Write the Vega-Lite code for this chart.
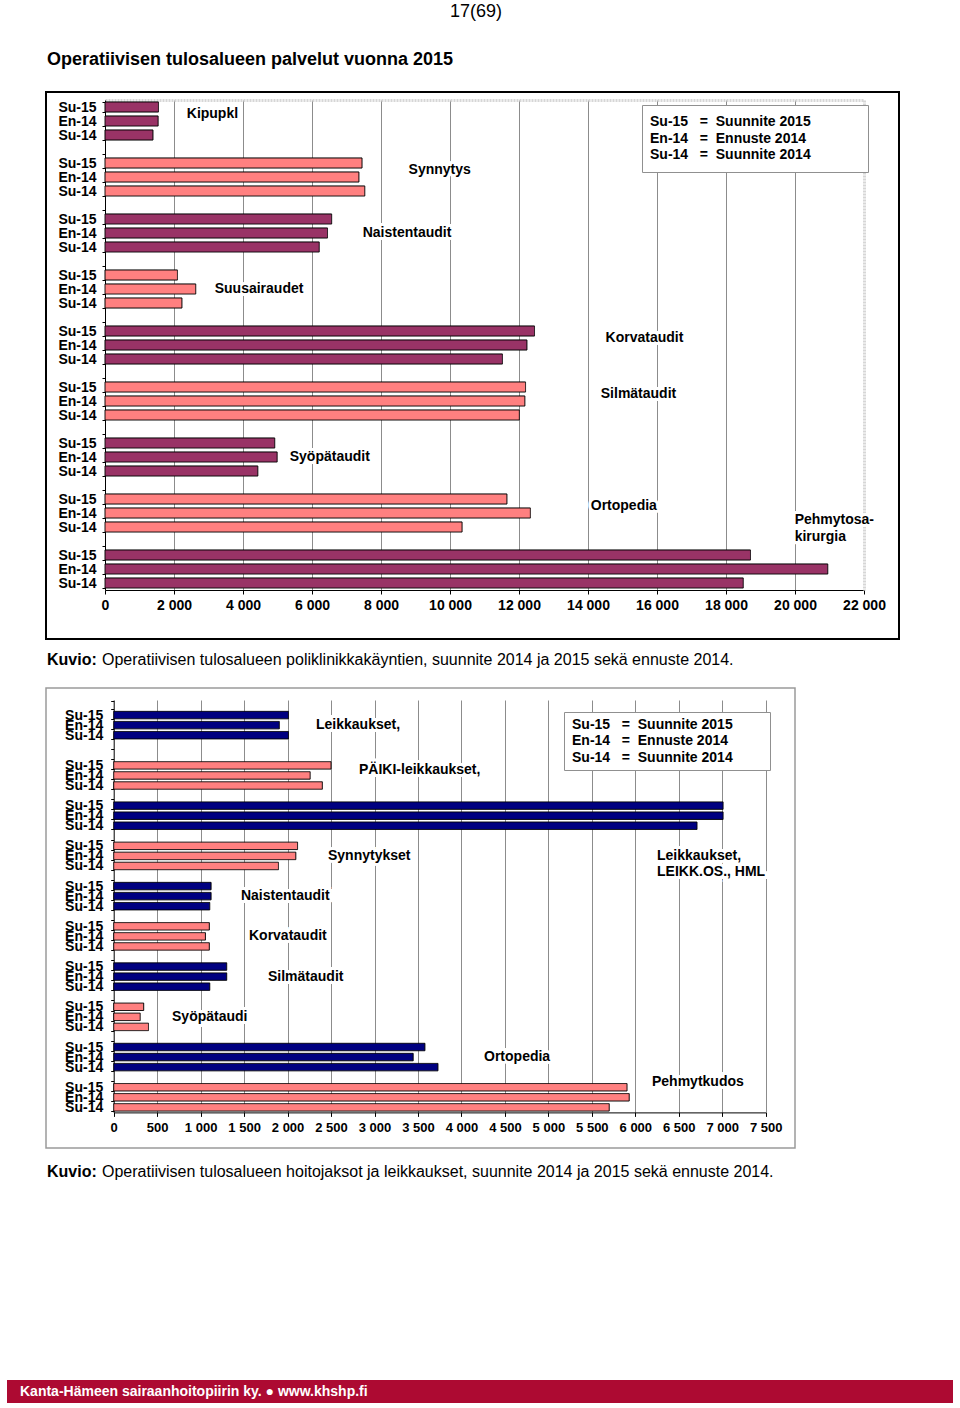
{
  "$schema": "https://vega.github.io/schema/vega-lite/v6.json",
  "background": "white",
  "padding": {"left": 7, "top": 3, "right": 0, "bottom": 0},
  "config": {"font": "Liberation Sans", "view": {"stroke": null}, "title": {"color": "black", "font": "Liberation Sans"}},
  "title": {"text": "17(69)", "anchor": "middle", "fontSize": 18, "fontWeight": "normal", "offset": 30, "dx": -4},
  "spacing": 11,
  "resolve": {"scale": {"fill": "independent", "strokeDash": "independent"}, "legend": {"strokeDash": "independent"}},
  "datasets": {
    "poli": [
      {"cat": "Kipupkl", "ver": "Su-15", "row": "1|Su-15", "v": 1550},
      {"cat": "Kipupkl", "ver": "En-14", "row": "1|En-14", "v": 1540},
      {"cat": "Kipupkl", "ver": "Su-14", "row": "1|Su-14", "v": 1390},
      {"cat": "Synnytys", "ver": "Su-15", "row": "2|Su-15", "v": 7450},
      {"cat": "Synnytys", "ver": "En-14", "row": "2|En-14", "v": 7360},
      {"cat": "Synnytys", "ver": "Su-14", "row": "2|Su-14", "v": 7530},
      {"cat": "Naistentaudit", "ver": "Su-15", "row": "3|Su-15", "v": 6570},
      {"cat": "Naistentaudit", "ver": "En-14", "row": "3|En-14", "v": 6450},
      {"cat": "Naistentaudit", "ver": "Su-14", "row": "3|Su-14", "v": 6210},
      {"cat": "Suusairaudet", "ver": "Su-15", "row": "4|Su-15", "v": 2100},
      {"cat": "Suusairaudet", "ver": "En-14", "row": "4|En-14", "v": 2630},
      {"cat": "Suusairaudet", "ver": "Su-14", "row": "4|Su-14", "v": 2230},
      {"cat": "Korvataudit", "ver": "Su-15", "row": "5|Su-15", "v": 12450},
      {"cat": "Korvataudit", "ver": "En-14", "row": "5|En-14", "v": 12230},
      {"cat": "Korvataudit", "ver": "Su-14", "row": "5|Su-14", "v": 11520},
      {"cat": "Silmätaudit", "ver": "Su-15", "row": "6|Su-15", "v": 12190},
      {"cat": "Silmätaudit", "ver": "En-14", "row": "6|En-14", "v": 12170},
      {"cat": "Silmätaudit", "ver": "Su-14", "row": "6|Su-14", "v": 12010},
      {"cat": "Syöpätaudit", "ver": "Su-15", "row": "7|Su-15", "v": 4920},
      {"cat": "Syöpätaudit", "ver": "En-14", "row": "7|En-14", "v": 4990},
      {"cat": "Syöpätaudit", "ver": "Su-14", "row": "7|Su-14", "v": 4430},
      {"cat": "Ortopedia", "ver": "Su-15", "row": "8|Su-15", "v": 11650},
      {"cat": "Ortopedia", "ver": "En-14", "row": "8|En-14", "v": 12330},
      {"cat": "Ortopedia", "ver": "Su-14", "row": "8|Su-14", "v": 10350},
      {"cat": "Pehmytosakirurgia", "ver": "Su-15", "row": "9|Su-15", "v": 18710},
      {"cat": "Pehmytosakirurgia", "ver": "En-14", "row": "9|En-14", "v": 20950},
      {"cat": "Pehmytosakirurgia", "ver": "Su-14", "row": "9|Su-14", "v": 18500}
    ],
    "poliLab": [
      {"label": "Kipupkl", "row": "1|Su-15", "pos": "edge", "x": 2370},
      {"label": "Synnytys", "row": "2|Su-15", "pos": "edge", "x": 8800},
      {"label": "Naistentaudit", "row": "3|En-14", "pos": "mid", "x": 7470},
      {"label": "Suusairaudet", "row": "4|En-14", "pos": "mid", "x": 3180},
      {"label": "Korvataudit", "row": "5|Su-15", "pos": "edge", "x": 14510},
      {"label": "Silmätaudit", "row": "6|Su-15", "pos": "edge", "x": 14370},
      {"label": "Syöpätaudit", "row": "7|En-14", "pos": "mid", "x": 5354},
      {"label": "Ortopedia", "row": "8|Su-15", "pos": "edge", "x": 14080},
      {"label": "Pehmytosa-\nkirurgia", "row": "8|En-14", "pos": "edge", "x": 19990}
    ],
    "hoito": [
      {"cat": "Leikkaukset", "ver": "Su-15", "row": "1|Su-15", "v": 2010},
      {"cat": "Leikkaukset", "ver": "En-14", "row": "1|En-14", "v": 1905},
      {"cat": "Leikkaukset", "ver": "Su-14", "row": "1|Su-14", "v": 2010},
      {"cat": "PÄIKI-leikkaukset", "ver": "Su-15", "row": "2|Su-15", "v": 2500},
      {"cat": "PÄIKI-leikkaukset", "ver": "En-14", "row": "2|En-14", "v": 2260},
      {"cat": "PÄIKI-leikkaukset", "ver": "Su-14", "row": "2|Su-14", "v": 2400},
      {"cat": "Leikkaukset, LEIKK.OS., HML", "ver": "Su-15", "row": "3|Su-15", "v": 7010},
      {"cat": "Leikkaukset, LEIKK.OS., HML", "ver": "En-14", "row": "3|En-14", "v": 7010},
      {"cat": "Leikkaukset, LEIKK.OS., HML", "ver": "Su-14", "row": "3|Su-14", "v": 6710},
      {"cat": "Synnytykset", "ver": "Su-15", "row": "4|Su-15", "v": 2115},
      {"cat": "Synnytykset", "ver": "En-14", "row": "4|En-14", "v": 2095},
      {"cat": "Synnytykset", "ver": "Su-14", "row": "4|Su-14", "v": 1895},
      {"cat": "Naistentaudit", "ver": "Su-15", "row": "5|Su-15", "v": 1120},
      {"cat": "Naistentaudit", "ver": "En-14", "row": "5|En-14", "v": 1120},
      {"cat": "Naistentaudit", "ver": "Su-14", "row": "5|Su-14", "v": 1105},
      {"cat": "Korvataudit", "ver": "Su-15", "row": "6|Su-15", "v": 1100},
      {"cat": "Korvataudit", "ver": "En-14", "row": "6|En-14", "v": 1055},
      {"cat": "Korvataudit", "ver": "Su-14", "row": "6|Su-14", "v": 1100},
      {"cat": "Silmätaudit", "ver": "Su-15", "row": "7|Su-15", "v": 1300},
      {"cat": "Silmätaudit", "ver": "En-14", "row": "7|En-14", "v": 1300},
      {"cat": "Silmätaudit", "ver": "Su-14", "row": "7|Su-14", "v": 1105},
      {"cat": "Syöpätaudi", "ver": "Su-15", "row": "8|Su-15", "v": 345},
      {"cat": "Syöpätaudi", "ver": "En-14", "row": "8|En-14", "v": 305},
      {"cat": "Syöpätaudi", "ver": "Su-14", "row": "8|Su-14", "v": 400},
      {"cat": "Ortopedia", "ver": "Su-15", "row": "9|Su-15", "v": 3580},
      {"cat": "Ortopedia", "ver": "En-14", "row": "9|En-14", "v": 3445},
      {"cat": "Ortopedia", "ver": "Su-14", "row": "9|Su-14", "v": 3730},
      {"cat": "Pehmytkudos", "ver": "Su-15", "row": "10|Su-15", "v": 5905},
      {"cat": "Pehmytkudos", "ver": "En-14", "row": "10|En-14", "v": 5930},
      {"cat": "Pehmytkudos", "ver": "Su-14", "row": "10|Su-14", "v": 5700}
    ],
    "hoitoLab": [
      {"label": "Leikkaukset,", "row": "1|En-14", "pos": "mid", "x": 2327},
      {"label": "PÄIKI-leikkaukset,", "row": "2|Su-15", "pos": "edge", "x": 2822},
      {"label": "Synnytykset", "row": "4|En-14", "pos": "mid", "x": 2465},
      {"label": "Leikkaukset,\nLEIKK.OS., HML", "row": "4|En-14", "pos": "mid", "x": 6250},
      {"label": "Naistentaudit", "row": "5|En-14", "pos": "mid", "x": 1464},
      {"label": "Korvataudit", "row": "6|En-14", "pos": "mid", "x": 1556},
      {"label": "Silmätaudit", "row": "7|En-14", "pos": "mid", "x": 1775},
      {"label": "Syöpätaudi", "row": "8|En-14", "pos": "mid", "x": 671},
      {"label": "Ortopedia", "row": "9|En-14", "pos": "mid", "x": 4260},
      {"label": "Pehmytkudos", "row": "9|", "pos": "edge", "x": 6192}
    ]
  },
  "vconcat": [
    {
      "title": {"text": "Operatiivisen tulosalueen palvelut vuonna 2015", "anchor": "start", "frame": "bounds", "dx": 40, "offset": 15, "fontSize": 18, "fontWeight": "bold"},
      "bounds": "flush",
      "spacing": 0,
      "resolve": {"scale": {"fill": "independent", "strokeDash": "independent"}, "legend": {"strokeDash": "independent"}},
      "hconcat": [
        {
          "width": 39, "height": 547,
          "data": {"values": []},
          "mark": "point",
          "title": {"text": "Kuvio:", "orient": "bottom", "anchor": "start", "frame": "group", "dx": 40, "offset": 13, "fontSize": 16, "fontWeight": "bold"}
        },
        {
          "width": 853, "height": 547,
          "view": {"stroke": "black", "strokeWidth": 2, "fill": "white"},
          "title": {"text": "Operatiivisen tulosalueen poliklinikkakäyntien, suunnite 2014 ja 2015 sekä ennuste 2014.", "orient": "bottom", "anchor": "start", "frame": "group", "dx": 56, "offset": 13, "fontSize": 16, "fontWeight": "normal"},
          "resolve": {"axis": {"x": "independent", "y": "independent"}},
          "layer": [
            {
              "data": {"name": "poli"},
              "mark": {"type": "bar", "stroke": "black", "strokeWidth": 1},
              "encoding": {
                "y": {"field": "row", "type": "nominal",
                  "scale": {"domain": ["1|Su-15","1|En-14","1|Su-14","1|","2|Su-15","2|En-14","2|Su-14","2|","3|Su-15","3|En-14","3|Su-14","3|","4|Su-15","4|En-14","4|Su-14","4|","5|Su-15","5|En-14","5|Su-14","5|","6|Su-15","6|En-14","6|Su-14","6|","7|Su-15","7|En-14","7|Su-14","7|","8|Su-15","8|En-14","8|Su-14","8|","9|Su-15","9|En-14","9|Su-14"], "range": [8, 498], "paddingInner": 0.28, "paddingOuter": 0.14},
                  "axis": {"orient": "left", "offset": -59, "title": null, "labelExpr": "split(datum.value, '|')[1]", "labelFontSize": 14, "labelFontWeight": "bold", "labelColor": "black", "labelPadding": 6, "tickSize": 3, "tickColor": "black", "domainColor": "black", "tickBand": "extent", "grid": false, "labelOverlap": false}},
                "x": {"field": "v", "type": "quantitative",
                  "scale": {"domain": [0, 22000], "range": [59, 818], "nice": false, "zero": true},
                  "axis": {"orient": "bottom", "offset": -49, "title": null, "values": [0,2000,4000,6000,8000,10000,12000,14000,16000,18000,20000,22000], "labelExpr": "replace(format(datum.value, ','), ',', ' ')", "grid": false, "labelFontSize": 14, "labelFontWeight": "bold", "labelColor": "black", "labelFlush": false, "tickSize": 4, "tickColor": "black", "domainColor": "black", "labelPadding": 4}},
                "fill": {"field": "cat", "type": "nominal",
                  "scale": {"domain": ["Kipupkl","Synnytys","Naistentaudit","Suusairaudet","Korvataudit","Silmätaudit","Syöpätaudit","Ortopedia","Pehmytosakirurgia"], "range": ["#993366","#FF8080","#993366","#FF8080","#993366","#FF8080","#993366","#FF8080","#993366"]},
                  "legend": null},
                "strokeDash": {"field": "ver", "type": "nominal",
                  "scale": {"domain": ["Su-15","En-14","Su-14"], "range": [[1,0],[1,0],[1,0]]},
                  "legend": {"orient": "none", "legendX": 596, "legendY": 13, "title": null, "padding": 10, "rowPadding": 2.5, "strokeColor": "#909090", "fillColor": "white", "symbolType": "circle", "symbolSize": 0, "symbolOpacity": 0, "symbolStrokeWidth": 0, "labelOffset": -16, "labelFontSize": 14, "labelFontWeight": "bold", "labelColor": "black", "labelLimit": 600, "zindex": 1,
                    "labelExpr": "datum.value == 'Su-15' ? 'Su-15\u00a0\u00a0\u00a0=\u00a0\u00a0Suunnite 2015\u00a0\u00a0\u00a0\u00a0\u00a0\u00a0\u00a0\u00a0\u00a0\u00a0\u00a0\u00a0\u200b' : datum.value == 'En-14' ? 'En-14\u00a0\u00a0\u00a0=\u00a0\u00a0Ennuste 2014' : 'Su-14\u00a0\u00a0\u00a0=\u00a0\u00a0Suunnite 2014'"}}
              }
            },
            {
              "data": {"name": "poliLab"},
              "transform": [{"filter": "datum.pos == 'mid'"}],
              "mark": {"type": "text", "align": "left", "baseline": "middle", "fontSize": 14, "fontWeight": "bold", "color": "white", "stroke": "white", "strokeWidth": 6, "lineBreak": "\n", "lineHeight": 17},
              "encoding": {
                "x": {"field": "x", "type": "quantitative",
                  "scale": {"domain": [0, 22000], "range": [59, 818], "nice": false, "zero": true}, "axis": null},
                "y": {"field": "row", "type": "nominal",
                  "scale": {"domain": ["1|Su-15","1|En-14","1|Su-14","1|","2|Su-15","2|En-14","2|Su-14","2|","3|Su-15","3|En-14","3|Su-14","3|","4|Su-15","4|En-14","4|Su-14","4|","5|Su-15","5|En-14","5|Su-14","5|","6|Su-15","6|En-14","6|Su-14","6|","7|Su-15","7|En-14","7|Su-14","7|","8|Su-15","8|En-14","8|Su-14","8|","9|Su-15","9|En-14","9|Su-14"], "range": [8, 498], "paddingInner": 0.28, "paddingOuter": 0.14}, "axis": null},
                "text": {"field": "label", "type": "nominal"}
              }
            },
            {
              "data": {"name": "poliLab"},
              "transform": [{"filter": "datum.pos == 'edge'"}],
              "mark": {"type": "text", "align": "left", "baseline": "middle", "fontSize": 14, "fontWeight": "bold", "color": "white", "stroke": "white", "strokeWidth": 6, "lineBreak": "\n", "lineHeight": 17, "dy": 7},
              "encoding": {
                "x": {"field": "x", "type": "quantitative",
                  "scale": {"domain": [0, 22000], "range": [59, 818], "nice": false, "zero": true}, "axis": null},
                "y": {"field": "row", "type": "nominal",
                  "scale": {"domain": ["1|Su-15","1|En-14","1|Su-14","1|","2|Su-15","2|En-14","2|Su-14","2|","3|Su-15","3|En-14","3|Su-14","3|","4|Su-15","4|En-14","4|Su-14","4|","5|Su-15","5|En-14","5|Su-14","5|","6|Su-15","6|En-14","6|Su-14","6|","7|Su-15","7|En-14","7|Su-14","7|","8|Su-15","8|En-14","8|Su-14","8|","9|Su-15","9|En-14","9|Su-14"], "range": [8, 498], "paddingInner": 0.28, "paddingOuter": 0.14}, "axis": null},
                "text": {"field": "label", "type": "nominal"}
              }
            },
            {
              "data": {"name": "poliLab"},
              "transform": [{"filter": "datum.pos == 'mid'"}],
              "mark": {"type": "text", "align": "left", "baseline": "middle", "fontSize": 14, "fontWeight": "bold", "color": "black", "lineBreak": "\n", "lineHeight": 17},
              "encoding": {
                "x": {"field": "x", "type": "quantitative",
                  "scale": {"domain": [0, 22000], "range": [59, 818], "nice": false, "zero": true},
                  "axis": {"orient": "top", "offset": -8, "title": null, "values": [2000,4000,6000,8000,10000,12000,14000,16000,18000,20000], "grid": true, "gridColor": "#8c8c8c", "gridWidth": 1, "labels": false, "ticks": false, "domain": true, "domainColor": "#d6d6d6", "domainWidth": 3, "domainDash": [2, 1]}},
                "y": {"field": "row", "type": "nominal",
                  "scale": {"domain": ["1|Su-15","1|En-14","1|Su-14","1|","2|Su-15","2|En-14","2|Su-14","2|","3|Su-15","3|En-14","3|Su-14","3|","4|Su-15","4|En-14","4|Su-14","4|","5|Su-15","5|En-14","5|Su-14","5|","6|Su-15","6|En-14","6|Su-14","6|","7|Su-15","7|En-14","7|Su-14","7|","8|Su-15","8|En-14","8|Su-14","8|","9|Su-15","9|En-14","9|Su-14"], "range": [8, 498], "paddingInner": 0.28, "paddingOuter": 0.14},
                  "axis": {"orient": "right", "offset": -35, "title": null, "grid": false, "labels": false, "ticks": false, "domain": true, "domainColor": "#d6d6d6", "domainWidth": 3, "domainDash": [2, 1]}},
                "text": {"field": "label", "type": "nominal"}
              }
            },
            {
              "data": {"name": "poliLab"},
              "transform": [{"filter": "datum.pos == 'edge'"}],
              "mark": {"type": "text", "align": "left", "baseline": "middle", "fontSize": 14, "fontWeight": "bold", "color": "black", "lineBreak": "\n", "lineHeight": 17, "dy": 7},
              "encoding": {
                "x": {"field": "x", "type": "quantitative",
                  "scale": {"domain": [0, 22000], "range": [59, 818], "nice": false, "zero": true}, "axis": null},
                "y": {"field": "row", "type": "nominal",
                  "scale": {"domain": ["1|Su-15","1|En-14","1|Su-14","1|","2|Su-15","2|En-14","2|Su-14","2|","3|Su-15","3|En-14","3|Su-14","3|","4|Su-15","4|En-14","4|Su-14","4|","5|Su-15","5|En-14","5|Su-14","5|","6|Su-15","6|En-14","6|Su-14","6|","7|Su-15","7|En-14","7|Su-14","7|","8|Su-15","8|En-14","8|Su-14","8|","9|Su-15","9|En-14","9|Su-14"], "range": [8, 498], "paddingInner": 0.28, "paddingOuter": 0.14}, "axis": null},
                "text": {"field": "label", "type": "nominal"}
              }
            }
          ]
        }
      ]
    },
    {
      "bounds": "flush",
      "spacing": 0,
      "resolve": {"scale": {"fill": "independent", "strokeDash": "independent"}, "legend": {"strokeDash": "independent"}},
      "hconcat": [
        {
          "width": 39, "height": 460,
          "data": {"values": []},
          "mark": "point",
          "title": {"text": "Kuvio:", "orient": "bottom", "anchor": "start", "frame": "group", "dx": 40, "offset": 16, "fontSize": 16, "fontWeight": "bold"}
        },
        {
          "width": 749, "height": 460,
          "view": {"stroke": "#9a9a9a", "strokeWidth": 1.5, "fill": "white"},
          "title": {"text": "Operatiivisen tulosalueen hoitojaksot ja leikkaukset, suunnite 2014 ja 2015 sekä ennuste 2014.", "orient": "bottom", "anchor": "start", "frame": "group", "dx": 56, "offset": 16, "fontSize": 16, "fontWeight": "normal"},
          "resolve": {"axis": {"x": "independent", "y": "independent"}},
          "layer": [
            {
              "data": {"name": "hoito"},
              "mark": {"type": "bar", "stroke": "black", "strokeWidth": 1},
              "encoding": {
                "y": {"field": "row", "type": "nominal",
                  "scale": {"domain": ["0|","1|Su-15","1|En-14","1|Su-14","1|","1b|","2|Su-15","2|En-14","2|Su-14","2|","3|Su-15","3|En-14","3|Su-14","3|","4|Su-15","4|En-14","4|Su-14","4|","5|Su-15","5|En-14","5|Su-14","5|","6|Su-15","6|En-14","6|Su-14","6|","7|Su-15","7|En-14","7|Su-14","7|","8|Su-15","8|En-14","8|Su-14","8|","9|Su-15","9|En-14","9|Su-14","9|","10|Su-15","10|En-14","10|Su-14"], "range": [12, 424.4], "paddingInner": 0.26, "paddingOuter": 0.13},
                  "axis": {"orient": "left", "offset": -67.7, "title": null, "labelExpr": "split(datum.value, '|')[1]", "labelFontSize": 14, "labelFontWeight": "bold", "labelColor": "black", "labelPadding": 8, "tickSize": 3, "tickColor": "black", "domainColor": "black", "tickBand": "extent", "grid": false, "labelOverlap": false}},
                "x": {"field": "v", "type": "quantitative",
                  "scale": {"domain": [0, 7500], "range": [67.7, 719.7], "nice": false, "zero": true},
                  "axis": {"orient": "bottom", "offset": -35.6, "title": null, "values": [0,500,1000,1500,2000,2500,3000,3500,4000,4500,5000,5500,6000,6500,7000,7500], "labelExpr": "replace(format(datum.value, ','), ',', ' ')", "grid": false, "labelFontSize": 13, "labelFontWeight": "bold", "labelColor": "black", "labelFlush": false, "tickSize": 4, "tickColor": "black", "domainColor": "black", "labelPadding": 5}},
                "fill": {"field": "cat", "type": "nominal",
                  "scale": {"domain": ["Leikkaukset","PÄIKI-leikkaukset","Leikkaukset, LEIKK.OS., HML","Synnytykset","Naistentaudit","Korvataudit","Silmätaudit","Syöpätaudi","Ortopedia","Pehmytkudos"], "range": ["#000080","#FF8080","#000080","#FF8080","#000080","#FF8080","#000080","#FF8080","#000080","#FF8080"]},
                  "legend": null},
                "strokeDash": {"field": "ver", "type": "nominal",
                  "scale": {"domain": ["Su-15","En-14","Su-14"], "range": [[1,0],[1,0],[1,0]]},
                  "legend": {"orient": "none", "legendX": 518, "legendY": 24, "title": null, "padding": 5.5, "rowPadding": 2.5, "strokeColor": "#909090", "fillColor": "white", "symbolType": "circle", "symbolSize": 0, "symbolOpacity": 0, "symbolStrokeWidth": 0, "labelOffset": -11.5, "labelFontSize": 14, "labelFontWeight": "bold", "labelColor": "black", "labelLimit": 600, "zindex": 1,
                    "labelExpr": "datum.value == 'Su-15' ? 'Su-15\u00a0\u00a0\u00a0=\u00a0\u00a0Suunnite 2015\u00a0\u00a0\u00a0\u00a0\u00a0\u00a0\u00a0\u00a0\u200b' : datum.value == 'En-14' ? 'En-14\u00a0\u00a0\u00a0=\u00a0\u00a0Ennuste 2014' : 'Su-14\u00a0\u00a0\u00a0=\u00a0\u00a0Suunnite 2014'"}}
              }
            },
            {
              "data": {"name": "hoitoLab"},
              "transform": [{"filter": "datum.pos == 'mid'"}],
              "mark": {"type": "text", "align": "left", "baseline": "middle", "fontSize": 14, "fontWeight": "bold", "color": "white", "stroke": "white", "strokeWidth": 6, "lineBreak": "\n", "lineHeight": 16.5},
              "encoding": {
                "x": {"field": "x", "type": "quantitative",
                  "scale": {"domain": [0, 7500], "range": [67.7, 719.7], "nice": false, "zero": true}, "axis": null},
                "y": {"field": "row", "type": "nominal",
                  "scale": {"domain": ["0|","1|Su-15","1|En-14","1|Su-14","1|","1b|","2|Su-15","2|En-14","2|Su-14","2|","3|Su-15","3|En-14","3|Su-14","3|","4|Su-15","4|En-14","4|Su-14","4|","5|Su-15","5|En-14","5|Su-14","5|","6|Su-15","6|En-14","6|Su-14","6|","7|Su-15","7|En-14","7|Su-14","7|","8|Su-15","8|En-14","8|Su-14","8|","9|Su-15","9|En-14","9|Su-14","9|","10|Su-15","10|En-14","10|Su-14"], "range": [12, 424.4], "paddingInner": 0.26, "paddingOuter": 0.13}, "axis": null},
                "text": {"field": "label", "type": "nominal"}
              }
            },
            {
              "data": {"name": "hoitoLab"},
              "transform": [{"filter": "datum.pos == 'edge'"}],
              "mark": {"type": "text", "align": "left", "baseline": "middle", "fontSize": 14, "fontWeight": "bold", "color": "white", "stroke": "white", "strokeWidth": 6, "dy": 5},
              "encoding": {
                "x": {"field": "x", "type": "quantitative",
                  "scale": {"domain": [0, 7500], "range": [67.7, 719.7], "nice": false, "zero": true}, "axis": null},
                "y": {"field": "row", "type": "nominal",
                  "scale": {"domain": ["0|","1|Su-15","1|En-14","1|Su-14","1|","1b|","2|Su-15","2|En-14","2|Su-14","2|","3|Su-15","3|En-14","3|Su-14","3|","4|Su-15","4|En-14","4|Su-14","4|","5|Su-15","5|En-14","5|Su-14","5|","6|Su-15","6|En-14","6|Su-14","6|","7|Su-15","7|En-14","7|Su-14","7|","8|Su-15","8|En-14","8|Su-14","8|","9|Su-15","9|En-14","9|Su-14","9|","10|Su-15","10|En-14","10|Su-14"], "range": [12, 424.4], "paddingInner": 0.26, "paddingOuter": 0.13}, "axis": null},
                "text": {"field": "label", "type": "nominal"}
              }
            },
            {
              "data": {"name": "hoitoLab"},
              "transform": [{"filter": "datum.pos == 'mid'"}],
              "mark": {"type": "text", "align": "left", "baseline": "middle", "fontSize": 14, "fontWeight": "bold", "color": "black", "lineBreak": "\n", "lineHeight": 16.5},
              "encoding": {
                "x": {"field": "x", "type": "quantitative",
                  "scale": {"domain": [0, 7500], "range": [67.7, 719.7], "nice": false, "zero": true},
                  "axis": {"orient": "top", "offset": -12, "title": null, "values": [500,1000,1500,2000,2500,3000,3500,4000,4500,5000,5500,6000,6500,7000,7500], "grid": true, "gridColor": "#8c8c8c", "gridWidth": 1, "labels": false, "ticks": false, "domain": false}},
                "y": {"field": "row", "type": "nominal",
                  "scale": {"domain": ["0|","1|Su-15","1|En-14","1|Su-14","1|","1b|","2|Su-15","2|En-14","2|Su-14","2|","3|Su-15","3|En-14","3|Su-14","3|","4|Su-15","4|En-14","4|Su-14","4|","5|Su-15","5|En-14","5|Su-14","5|","6|Su-15","6|En-14","6|Su-14","6|","7|Su-15","7|En-14","7|Su-14","7|","8|Su-15","8|En-14","8|Su-14","8|","9|Su-15","9|En-14","9|Su-14","9|","10|Su-15","10|En-14","10|Su-14"], "range": [12, 424.4], "paddingInner": 0.26, "paddingOuter": 0.13},
                  "axis": null},
                "text": {"field": "label", "type": "nominal"}
              }
            },
            {
              "data": {"name": "hoitoLab"},
              "transform": [{"filter": "datum.pos == 'edge'"}],
              "mark": {"type": "text", "align": "left", "baseline": "middle", "fontSize": 14, "fontWeight": "bold", "color": "black", "dy": 5},
              "encoding": {
                "x": {"field": "x", "type": "quantitative",
                  "scale": {"domain": [0, 7500], "range": [67.7, 719.7], "nice": false, "zero": true}, "axis": null},
                "y": {"field": "row", "type": "nominal",
                  "scale": {"domain": ["0|","1|Su-15","1|En-14","1|Su-14","1|","1b|","2|Su-15","2|En-14","2|Su-14","2|","3|Su-15","3|En-14","3|Su-14","3|","4|Su-15","4|En-14","4|Su-14","4|","5|Su-15","5|En-14","5|Su-14","5|","6|Su-15","6|En-14","6|Su-14","6|","7|Su-15","7|En-14","7|Su-14","7|","8|Su-15","8|En-14","8|Su-14","8|","9|Su-15","9|En-14","9|Su-14","9|","10|Su-15","10|En-14","10|Su-14"], "range": [12, 424.4], "paddingInner": 0.26, "paddingOuter": 0.13}, "axis": null},
                "text": {"field": "label", "type": "nominal"}
              }
            }
          ]
        }
      ]
    },
    {
      "width": 1, "height": 177,
      "data": {"values": []},
      "mark": "point"
    },
    {
      "width": 946, "height": 23,
      "view": {"fill": "#AD0A32", "stroke": null},
      "data": {"values": []},
      "mark": "point",
      "title": {"text": "Kanta-Hämeen sairaanhoitopiirin ky. ● www.khshp.fi", "orient": "bottom", "anchor": "start", "frame": "group", "dx": 13, "offset": -18, "fontSize": 14, "fontWeight": "bold", "color": "white"}
    }
  ]
}
